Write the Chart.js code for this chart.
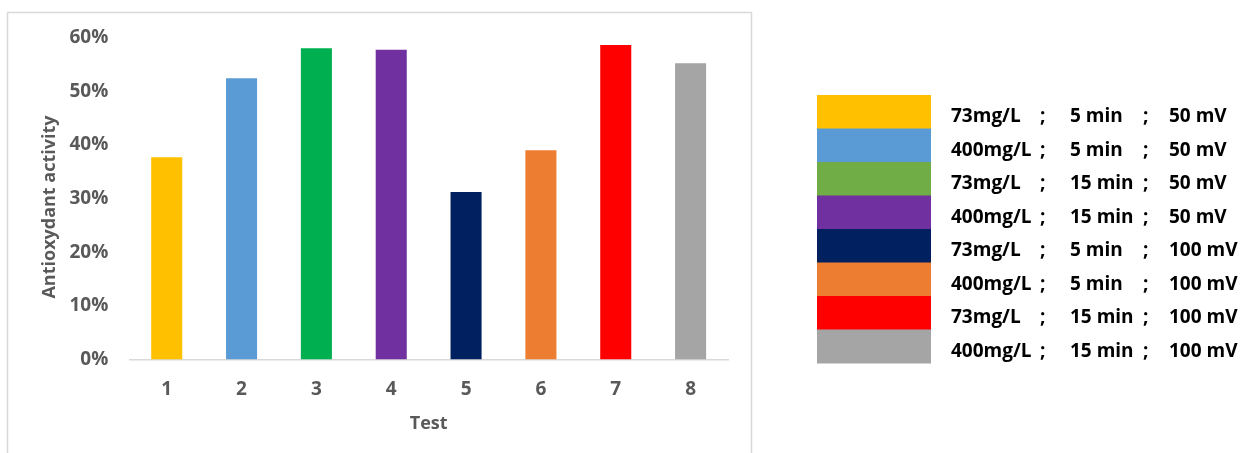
<!DOCTYPE html>
<html>
<head>
<meta charset="utf-8">
<script src="https://cdn.jsdelivr.net/npm/chart.js@4.4.1/dist/chart.umd.min.js"></script>
<style>
  html, body { margin: 0; padding: 0; background: #ffffff; }
  #wrap { position: relative; width: 1245px; height: 453px; }
</style>
</head>
<body>
<div id="wrap"><canvas id="chart" width="1245" height="453"></canvas></div>
<script>
// Test numbers on the x axis
const tests = ['1', '2', '3', '4', '5', '6', '7', '8'];
// Antioxydant activity per test, in percent
const activity = [37.7, 52.4, 58.0, 57.7, 31.2, 39.0, 58.6, 55.2];
// Bar fill colours
const barColors = ['#FFC000', '#5B9BD5', '#00B050', '#7030A0', '#002060', '#ED7D31', '#FF0000', '#A5A5A5'];
// Swatch colours shown in the key
const keyColors = ['#FFC000', '#5B9BD5', '#70AD47', '#7030A0', '#002060', '#ED7D31', '#FF0000', '#A5A5A5'];
// Test conditions: concentration, duration, voltage
const concentrations = ['73mg/L', '400mg/L', '73mg/L', '400mg/L', '73mg/L', '400mg/L', '73mg/L', '400mg/L'];
const durations = ['5 min', '5 min', '15 min', '15 min', '5 min', '5 min', '15 min', '15 min'];
const voltages = ['50 mV', '50 mV', '50 mV', '50 mV', '100 mV', '100 mV', '100 mV', '100 mV'];
// y axis tick values
const yTicks = [0, 10, 20, 30, 40, 50, 60];

const FONT = "'Open Sans', sans-serif";
const GREY = '#595959';

// Outer frame of the plot, the y axis title and the condition key on the right
const framePlugin = {
  id: 'frameAndKey',
  afterDraw(chart) {
    const ctx = chart.ctx;
    ctx.save();
    // frame
    ctx.strokeStyle = '#D9D9D9';
    ctx.lineWidth = 1.5;
    ctx.beginPath();
    ctx.moveTo(7.5, 460);
    ctx.lineTo(7.5, 12.5);
    ctx.lineTo(751.5, 12.5);
    ctx.lineTo(751.5, 460);
    ctx.stroke();

    // y axis title
    ctx.fillStyle = GREY;
    ctx.font = "bold 18px " + FONT;
    ctx.textAlign = 'center';
    ctx.textBaseline = 'middle';
    ctx.translate(50, 207);
    ctx.rotate(-Math.PI / 2);
    ctx.fillText('Antioxydant activity', 0, 0);
    ctx.restore();

    // key
    ctx.save();
    const x0 = 817, w = 114, top = 95, rowH = 33.5;
    ctx.font = "bold 19px " + FONT;
    ctx.textBaseline = 'alphabetic';
    ctx.textAlign = 'left';
    keyColors.forEach((c, i) => {
      const y = top + i * rowH;
      ctx.fillStyle = c;
      ctx.fillRect(x0, y, w, rowH + 0.5);
      ctx.fillStyle = '#000000';
      const base = y + 27;
      ctx.fillText(concentrations[i], 951, base);
      ctx.fillText(';', 1040, base);
      ctx.fillText(durations[i], 1070, base);
      ctx.fillText(';', 1143, base);
      ctx.fillText(voltages[i], 1169, base);
    });
    ctx.restore();
  }
};

new Chart(document.getElementById('chart'), {
  type: 'bar',
  data: {
    labels: tests,
    datasets: [{
      label: 'Antioxydant activity',
      data: activity,
      backgroundColor: barColors,
      borderWidth: 0,
      categoryPercentage: 1.0,
      barPercentage: 0.415
    }]
  },
  options: {
    responsive: false,
    animation: false,
    layout: { padding: { left: 0, top: 37.5, right: 517, bottom: 0 } },
    plugins: {
      legend: { display: false },
      tooltip: { enabled: false }
    },
    scales: {
      x: {
        grid: { display: false, drawTicks: false },
        border: { display: true, color: '#D9D9D9', width: 1.5 },
        ticks: { color: GREY, font: { family: FONT, size: 19, weight: 'bold' }, padding: 19 },
        title: {
          display: true, text: 'Test', color: GREY,
          font: { family: FONT, size: 18, weight: 'bold' },
          padding: { top: 0, bottom: 18 }
        },
        afterFit(scale) { scale.height = 93.5; }
      },
      y: {
        min: 0, max: 60,
        grid: { display: false, drawTicks: false },
        border: { display: false },
        afterBuildTicks(scale) { scale.ticks = yTicks.map(v => ({ value: v })); },
        ticks: {
          color: GREY, font: { family: FONT, size: 19, weight: 'bold' }, padding: 21,
          callback: v => v + '%'
        },
        afterFit(scale) { scale.width = 129.3; }
      }
    }
  },
  plugins: [framePlugin]
});
</script>
</body>
</html>
